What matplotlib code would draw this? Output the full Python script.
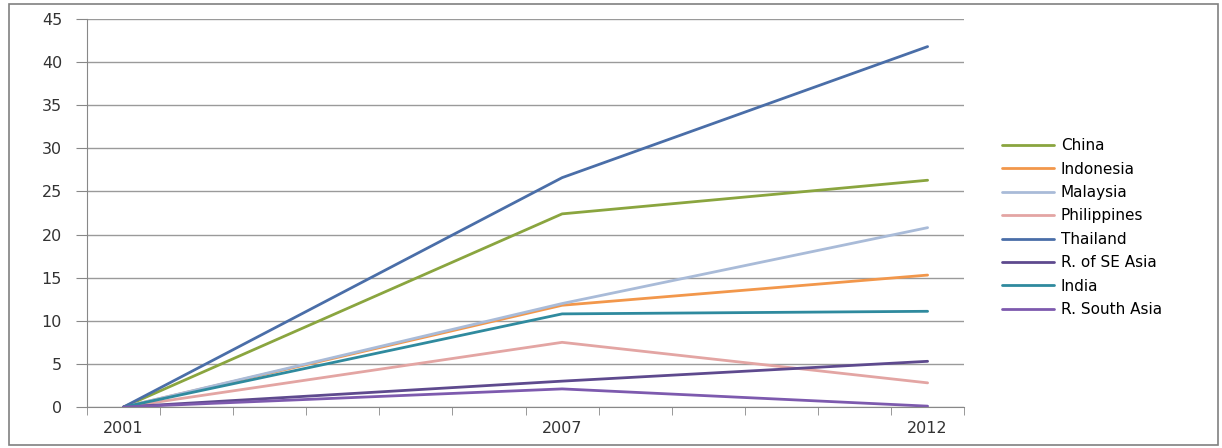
import numpy as np
import matplotlib.pyplot as plt
from matplotlib.patches import Rectangle

plt.rcParams['font.family'] = ['DejaVu Sans']

years = [2001, 2007, 2012]
labels = ['China', 'Indonesia', 'Malaysia', 'Philippines', 'Thailand',
          'R. of SE Asia', 'India', 'R. South Asia']
china = [0, 22.4, 26.3]
indonesia = [0, 11.8, 15.3]
malaysia = [0, 12.0, 20.8]
philippines = [0, 7.5, 2.8]
thailand = [0, 26.6, 41.8]
rest_se_asia = [0, 3.0, 5.3]
india = [0, 10.8, 11.1]
rest_south_asia = [0, 2.1, 0.1]

series = [china, indonesia, malaysia, philippines, thailand,
          rest_se_asia, india, rest_south_asia]
colors = ['#8AA53F', '#F2974B', '#A9BBD8', '#E3A5A3', '#4A6EA8',
          '#5E4A8E', '#2F8A9E', '#7D5AAE']

fig = plt.figure(figsize=(12.22, 4.48), dpi=100)
ax = fig.add_axes([0.0712, 0.0915, 0.7178, 0.8661])

for vals, lab, col in zip(series, labels, colors):
    ax.plot(years, vals, color=col, lw=2.0, label=lab, solid_capstyle='round')

ax.set_xlim(2000.5, 2012.5)
ax.set_ylim(0, 45)
ax.set_yticks(np.arange(0, 50, 5))
ax.yaxis.grid(True, color='#9a9a9a', lw=1.0)
ax.set_axisbelow(True)

ax.set_xticks(years)
ax.set_xticklabels([str(y) for y in years])
ax.set_xticks(np.arange(2000.5, 2013, 1), minor=True)
ax.tick_params(axis='x', which='major', length=0, pad=10, labelsize=11.5, colors='#333333')
ax.tick_params(axis='x', which='minor', length=6, direction='out', color='#888888')
ax.tick_params(axis='y', length=8, direction='out', color='#888888', labelsize=11.5,
               labelcolor='#333333', pad=10)

for s in ['top', 'right']:
    ax.spines[s].set_visible(False)
ax.spines['left'].set_color('#888888')
ax.spines['bottom'].set_color('#888888')

fig.legend(loc='upper left', bbox_to_anchor=(0.815, 0.705), frameon=False,
           fontsize=11, handlelength=3.4, handletextpad=0.45, labelspacing=0.55,
           borderaxespad=0)

fig.patches.append(Rectangle((0.007, 0.007), 0.990, 0.984, transform=fig.transFigure,
                             fill=False, edgecolor='#808080', lw=1.2))

fig.savefig('out.png', dpi=100)
